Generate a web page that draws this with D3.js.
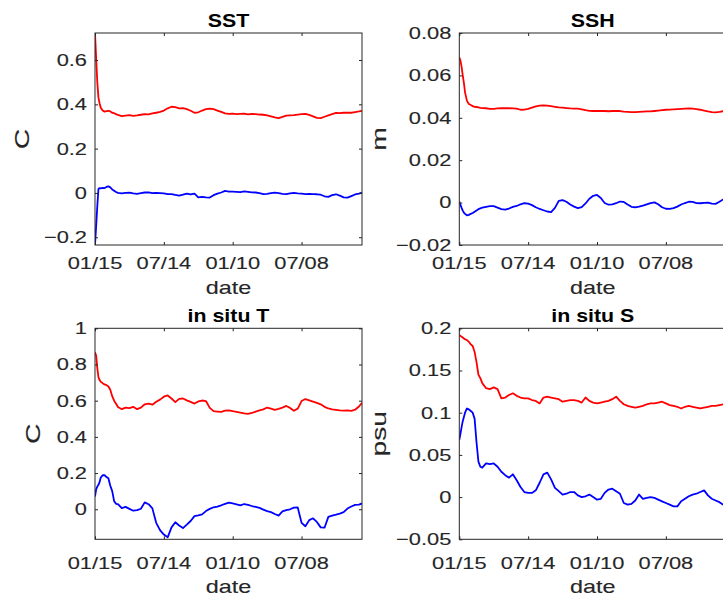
<!DOCTYPE html>
<html><head><meta charset="utf-8">
<script src="https://cdn.jsdelivr.net/npm/d3@7"></script>
<style>
html,body{margin:0;padding:0;background:#fff;}
svg{display:block;}
</style></head><body>
<svg id="fig" width="723" height="603"></svg>
<script>
// Sample days since 15 Jan (daily record, read at a coarser step)
const days = [0,3,6,9,12,15,20,25,30,35,40,45,50,55,60,70,80,90,100,110,120,130,140,150,160,170,180,190,200,210,220,230,240,250,260,270,280,290,300,310,320,330,340,350,360,370,380,390,400,410,420,430,440,450,460,470,480,490,500,510,520,530,540,550,560,570,580,590,600,610,620,630,640,650,660,670,680,690,698];
const xTickDays = [0,180,360,540];
const xTickLabels = ["01/15","07/14","01/10","07/08"];

// SST (C)
const sstRed = [0.722,0.61,0.5,0.43,0.405,0.385,0.372,0.367,0.369,0.371,0.368,0.362,0.36,0.356,0.352,0.347,0.349,0.351,0.348,0.35,0.353,0.356,0.355,0.359,0.362,0.366,0.372,0.382,0.389,0.387,0.382,0.383,0.378,0.371,0.362,0.364,0.372,0.378,0.381,0.378,0.372,0.366,0.359,0.357,0.358,0.356,0.357,0.358,0.355,0.357,0.356,0.354,0.353,0.35,0.346,0.341,0.338,0.343,0.349,0.35,0.351,0.354,0.356,0.357,0.352,0.346,0.339,0.338,0.344,0.35,0.356,0.361,0.36,0.362,0.363,0.362,0.365,0.368,0.371];
const sstBlue = [-0.235,-0.15,-0.06,0.018,0.022,0.021,0.023,0.022,0.027,0.03,0.025,0.016,0.01,0.004,0.0,-0.002,0.0,0.001,-0.002,-0.004,-0.001,0.002,0.003,-0.001,0.0,-0.001,-0.002,-0.005,-0.005,-0.009,-0.012,-0.008,-0.003,-0.007,-0.003,-0.02,-0.018,-0.02,-0.021,-0.01,-0.003,0.002,0.009,0.006,0.006,0.005,0.004,0.007,0.005,0.003,0.002,-0.001,-0.005,-0.004,-0.001,0.001,-0.001,-0.004,-0.005,-0.002,0.0,-0.002,-0.003,-0.005,-0.004,-0.005,-0.006,-0.008,-0.015,-0.018,-0.01,-0.006,-0.012,-0.02,-0.021,-0.014,-0.007,-0.003,0.001];
const sstDomain = [-0.235, 0.722];
const sstTicks = [-0.2,0,0.2,0.4,0.6];
const sstTickLabels = ["\u22120.2","0","0.2","0.4","0.6"];

// SSH (m)
const sshRed = [0.0685,0.067,0.064,0.06,0.0565,0.052,0.048,0.0465,0.046,0.0455,0.0452,0.0451,0.0449,0.0447,0.0446,0.0445,0.0442,0.0442,0.0444,0.0445,0.0446,0.0445,0.0444,0.0443,0.0438,0.0439,0.0442,0.0448,0.0454,0.0457,0.0458,0.0457,0.0455,0.0452,0.0449,0.0448,0.0446,0.0444,0.0443,0.0443,0.044,0.0436,0.0433,0.0432,0.0433,0.0432,0.0432,0.0431,0.0432,0.0433,0.0432,0.0429,0.0428,0.0427,0.0427,0.0428,0.0429,0.043,0.043,0.0432,0.0434,0.0436,0.0438,0.0439,0.044,0.0441,0.0442,0.0443,0.0444,0.0443,0.0441,0.0438,0.0434,0.043,0.0427,0.0426,0.0428,0.0431,0.0432];
const sshBlue = [0.0005,-0.001,-0.0025,-0.0038,-0.0047,-0.0053,-0.006,-0.0058,-0.0053,-0.0049,-0.0043,-0.0037,-0.0031,-0.0027,-0.0024,-0.002,-0.0017,-0.0017,-0.0024,-0.0031,-0.0033,-0.0028,-0.002,-0.0016,-0.0008,-0.0003,-0.0005,-0.0012,-0.0022,-0.003,-0.0036,-0.0042,-0.0045,-0.0025,0.0008,0.0012,0.0004,-0.0009,-0.0019,-0.0026,-0.0021,-0.0004,0.0018,0.0032,0.0036,0.0022,-0.0002,-0.001,-0.0008,-0.0003,0.0005,0.0003,-0.0009,-0.002,-0.0022,-0.0019,-0.0014,-0.0008,-0.0002,0.0001,-0.0008,-0.0022,-0.0029,-0.003,-0.0026,-0.0019,-0.0009,-0.0002,0.0004,0.0003,-0.0002,-0.0003,-0.0001,0.0,-0.0005,-0.0006,0.0004,0.0015,0.0022];
const sshDomain = [-0.02, 0.08];
const sshTicks = [-0.02,0,0.02,0.04,0.06,0.08];
const sshTickLabels = ["\u22120.02","0","0.02","0.04","0.06","0.08"];

// in situ T (C)
const tRed = [0.867,0.85,0.78,0.73,0.714,0.705,0.697,0.69,0.686,0.678,0.66,0.625,0.6,0.583,0.565,0.553,0.562,0.559,0.566,0.553,0.562,0.58,0.584,0.578,0.594,0.606,0.622,0.629,0.612,0.592,0.61,0.612,0.602,0.593,0.584,0.596,0.601,0.598,0.56,0.542,0.54,0.538,0.545,0.547,0.542,0.538,0.534,0.53,0.527,0.532,0.54,0.546,0.552,0.562,0.556,0.549,0.555,0.562,0.571,0.56,0.544,0.556,0.598,0.609,0.602,0.595,0.588,0.58,0.566,0.557,0.552,0.549,0.546,0.545,0.546,0.544,0.55,0.568,0.588];
const tBlue = [0.07,0.11,0.125,0.135,0.15,0.175,0.188,0.189,0.178,0.171,0.13,0.1,0.045,0.03,0.028,0.006,0.013,0.002,-0.008,-0.005,0.003,0.038,0.028,0.005,-0.075,-0.115,-0.14,-0.155,-0.1,-0.072,-0.09,-0.104,-0.085,-0.065,-0.038,-0.034,-0.028,-0.01,0.002,0.011,0.015,0.022,0.03,0.037,0.032,0.027,0.021,0.029,0.024,0.018,0.013,0.008,-0.002,-0.01,-0.016,-0.026,-0.035,-0.012,-0.005,0.0,0.009,0.01,-0.075,-0.094,-0.06,-0.05,-0.07,-0.1,-0.102,-0.042,-0.035,-0.03,-0.024,-0.016,0.004,0.015,0.024,0.026,0.032];
const tDomain = [-0.166, 1];
const tTicks = [0,0.2,0.4,0.6,0.8,1];
const tTickLabels = ["0","0.2","0.4","0.6","0.8","1"];

// in situ S (psu)
const sRed = [0.192,0.191,0.19,0.189,0.188,0.187,0.186,0.184,0.181,0.179,0.172,0.16,0.145,0.141,0.135,0.129,0.128,0.13,0.128,0.117,0.118,0.121,0.123,0.12,0.118,0.117,0.117,0.115,0.114,0.111,0.118,0.119,0.118,0.117,0.116,0.113,0.114,0.115,0.115,0.114,0.112,0.118,0.114,0.112,0.111,0.112,0.113,0.114,0.116,0.119,0.114,0.11,0.108,0.107,0.106,0.107,0.108,0.11,0.111,0.111,0.112,0.113,0.111,0.109,0.108,0.107,0.105,0.107,0.108,0.107,0.106,0.105,0.106,0.107,0.108,0.108,0.109,0.11,0.109];
const sBlue = [0.068,0.075,0.083,0.09,0.095,0.1,0.105,0.104,0.102,0.1,0.093,0.065,0.042,0.036,0.035,0.04,0.039,0.04,0.036,0.03,0.026,0.023,0.027,0.02,0.012,0.006,0.005,0.005,0.008,0.017,0.027,0.029,0.021,0.011,0.007,0.003,0.004,0.006,0.006,0.002,0.0,0.001,0.003,0.0,-0.003,-0.002,0.005,0.009,0.01,0.007,0.004,-0.007,-0.009,-0.008,-0.004,0.003,-0.002,-0.001,0.0,-0.001,-0.003,-0.005,-0.007,-0.009,-0.011,-0.011,-0.005,-0.002,0.001,0.003,0.004,0.006,0.008,0.002,-0.002,-0.004,-0.006,-0.009,-0.01];
const sDomain = [-0.05, 0.2];
const sTicks = [-0.05,0,0.05,0.1,0.15,0.2];
const sTickLabels = ["\u22120.05","0","0.05","0.1","0.15","0.2"];

const panels = [
  {title:"SST", unit:"C", red:sstRed, blue:sstBlue, dom:sstDomain, ticks:sstTicks, labels:sstTickLabels, col:0, row:0},
  {title:"SSH", unit:"m", red:sshRed, blue:sshBlue, dom:sshDomain, ticks:sshTicks, labels:sshTickLabels, col:1, row:0},
  {title:"in situ T", unit:"C", red:tRed, blue:tBlue, dom:tDomain, ticks:tTicks, labels:tTickLabels, col:0, row:1},
  {title:"in situ S", unit:"psu", red:sRed, blue:sBlue, dom:sDomain, ticks:sTicks, labels:sTickLabels, col:1, row:1}
];

// ---- layout ----
const FONT = "'Liberation Sans', Arial, Helvetica, sans-serif";
const SX = 1.3;                 // horizontal glyph stretch
const AX = "#262626";
const colX = [95, 459.3], plotW = 267;
const rowY = [33, 328.3], rowH = [212, 211];
const xLabBase = [268.5, 568.5]; // baselines of x tick labels
const xTitleBase = [294, 593.3];
const unitX = [[28.5, 386],[40, 386]];

const svg = d3.select("#fig");

function styleText(sel, size, weight, color, sw){
  sel.style("font-family", FONT).style("font-size", size + "px")
    .style("font-weight", weight || "normal")
    .attr("fill", color).attr("stroke", color).attr("stroke-width", sw);
}

panels.forEach(p => {
  const x0 = colX[p.col], y0 = rowY[p.row], h = rowH[p.row];
  const x = d3.scaleLinear().domain([0, 698]).range([x0, x0 + plotW]);
  const y = d3.scaleLinear().domain(p.dom).range([y0 + h, y0]);
  const g = svg.append("g");

  const clipId = "clip" + p.col + p.row;
  g.append("clipPath").attr("id", clipId).append("rect")
    .attr("x", x0).attr("y", y0 - 1).attr("width", plotW).attr("height", h + 2);

  const line = d3.line().x((d,i) => x(days[i])).y(d => y(d));
  const lines = g.append("g").attr("clip-path", `url(#${clipId})`);
  lines.append("path").datum(p.red).attr("d", line)
    .attr("fill","none").attr("stroke","#ff0000").attr("stroke-width",1.8).attr("stroke-linejoin","round");
  lines.append("path").datum(p.blue).attr("d", line)
    .attr("fill","none").attr("stroke","#0000ff").attr("stroke-width",1.8).attr("stroke-linejoin","round");

  // tick marks pointing inward on all four sides
  const tk = 3;
  const left = g.append("g").attr("transform", `translate(${x0},0)`)
    .call(d3.axisLeft(y).tickValues(p.ticks).tickFormat("").tickSize(-tk));
  const right = g.append("g").attr("transform", `translate(${x0 + plotW},0)`)
    .call(d3.axisRight(y).tickValues(p.ticks).tickFormat("").tickSize(-tk));
  const bottom = g.append("g").attr("transform", `translate(0,${y0 + h})`)
    .call(d3.axisBottom(x).tickValues(xTickDays).tickFormat("").tickSize(-tk));
  const top = g.append("g").attr("transform", `translate(0,${y0})`)
    .call(d3.axisTop(x).tickValues(xTickDays).tickFormat("").tickSize(-tk));
  [left, right, bottom, top].forEach(a => {
    a.select(".domain").remove();
    a.selectAll(".tick line").attr("stroke", AX).attr("stroke-width", 1);
    a.selectAll("text").remove();
  });

  // y tick labels
  p.ticks.forEach((v, i) => {
    const t = g.append("g").attr("transform", `translate(${x0 - 8},${y(v)})`)
      .append("text").attr("text-anchor","end").attr("dy","0.35em")
      .attr("transform", `scale(${SX},1)`).text(p.labels[i]);
    styleText(t, 16.8, "normal", AX, 0.12);
  });
  // x tick labels
  xTickDays.forEach((d, i) => {
    const t = g.append("g").attr("transform", `translate(${x(d)},${xLabBase[p.row]})`)
      .append("text").attr("text-anchor","middle")
      .attr("transform", `scale(${SX},1)`).text(xTickLabels[i]);
    styleText(t, 16.8, "normal", AX, 0.12);
  });

  g.append("rect").attr("x", x0).attr("y", y0).attr("width", plotW).attr("height", h)
    .attr("fill","none").attr("stroke", AX).attr("stroke-width", 1);

  // title
  const tt = g.append("g").attr("transform", `translate(${x0 + plotW/2},${y0 - 6.3})`)
    .append("text").attr("text-anchor","middle").attr("transform", `scale(1.22,1)`).text(p.title);
  styleText(tt, 17.5, "bold", "#000", 0);

  // x label
  const xl = g.append("g").attr("transform", `translate(${x0 + plotW/2},${xTitleBase[p.row]})`)
    .append("text").attr("text-anchor","middle").attr("transform", `scale(${SX},1)`).text("date");
  styleText(xl, 18, "normal", AX, 0.12);

  // y label
  const yl = g.append("g").attr("transform", `translate(${unitX[p.row][p.col]},${y0 + h/2}) rotate(-90)`)
    .append("text").attr("text-anchor","middle").attr("transform", `scale(1.45,1)`).text(p.unit);
  styleText(yl, 19.5, "normal", AX, 0.12);
});
</script>
</body></html>
